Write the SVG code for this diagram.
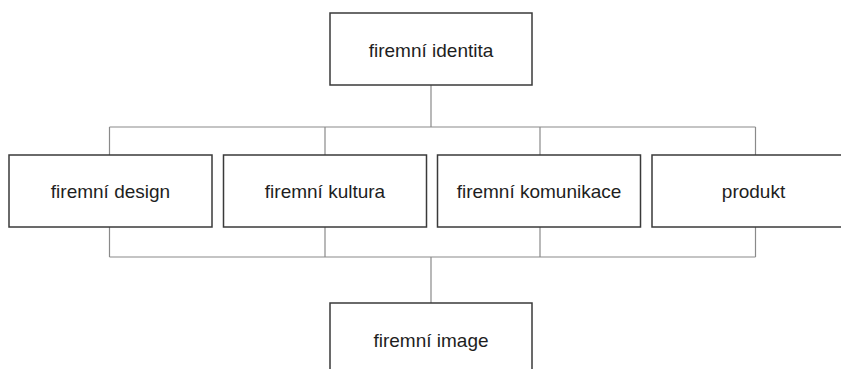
<svg xmlns="http://www.w3.org/2000/svg" width="841" height="369" viewBox="0 0 841 369">
<style>
.box{fill:#fff;stroke:#3a3a3a;stroke-width:1.5}
.lbl{font-family:"Liberation Sans",Arial,sans-serif;font-size:19px;fill:#1e1e1e;text-anchor:middle}
.conn{fill:none;stroke:#8a8a8a;stroke-width:1.2}
</style>
<rect width="841" height="369" fill="#fff"/>
<g id="connectors">
<path class="conn" d="M431 85V127M109.5 127H755.5M109.5 127V155M325 127V155M540 127V155M755.5 127V155"/>
<path class="conn" d="M109.5 227V257M325 227V257M540 227V257M755.5 227V257M109.5 257H755.5M431 257V303"/>
</g>
<g id="n-identita"><rect class="box" x="330" y="13" width="202" height="72"/><text class="lbl" x="431" y="57">firemní identita</text></g>
<g id="n-design"><rect class="box" x="9" y="155" width="203" height="72"/><text class="lbl" x="110.5" y="198">firemní design</text></g>
<g id="n-kultura"><rect class="box" x="223.5" y="155" width="203" height="72"/><text class="lbl" x="325" y="198">firemní kultura</text></g>
<g id="n-komunikace"><rect class="box" x="437.5" y="155" width="203" height="72"/><text class="lbl" x="539" y="198">firemní komunikace</text></g>
<g id="n-produkt"><rect class="box" x="652" y="155" width="203" height="72"/><text class="lbl" x="753.5" y="198">produkt</text></g>
<g id="n-image"><rect class="box" x="330" y="303" width="202" height="72"/><text class="lbl" x="431" y="347">firemní image</text></g>
</svg>
